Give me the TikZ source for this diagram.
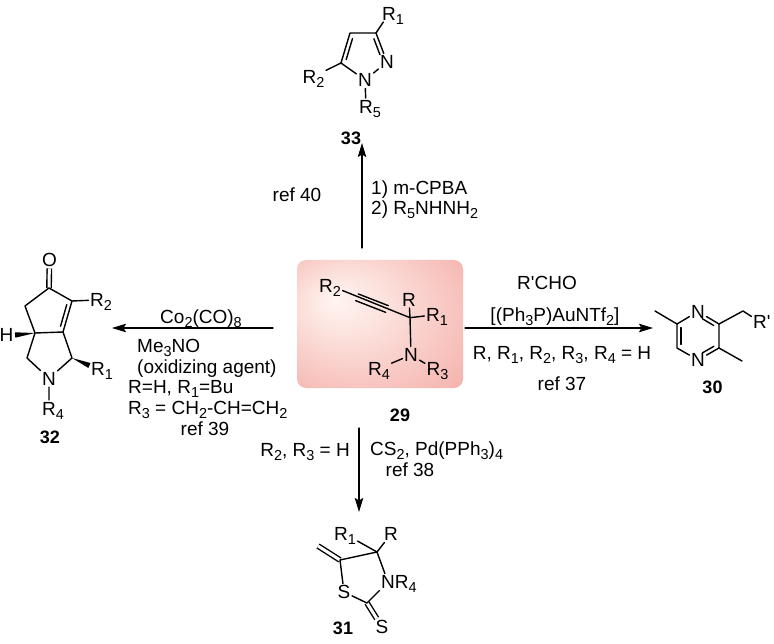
\documentclass[tikz,border=0pt]{standalone}
\usepackage{fontspec}
\setmainfont{Liberation Sans}
\usetikzlibrary{arrows.meta,calc}
\pgfdeclareradialshading{glowbox}{\pgfpoint{-14bp}{10bp}}{rgb(0bp)=(1,0.96,0.95); rgb(10bp)=(0.99,0.90,0.88); rgb(30bp)=(0.97,0.76,0.74); rgb(50bp)=(0.95,0.63,0.60)}
\newcommand\sub[1]{\raisebox{-.2em}{\scalebox{.76}{#1}}}
\newcommand\inbond[5]{\draw[bond] ($(#1)!#4!(#2)!#3!90:(#2)$) -- ($(#2)!#5!(#1)!#3!-90:(#1)$);}
\begin{document}
\begin{tikzpicture}[x=1pt,y=-1pt,>={Stealth[length=14pt,width=8.5pt,inset=2.5pt]},line join=round,line cap=round,
	bond/.style={line width=1.4pt},
	dbl/.style={line width=1.4pt,double distance=3pt,line cap=butt},
	rxn/.style={->,line width=1.3pt},
	atom/.style={font=\fontsize{19}{21}\selectfont,inner sep=1.5pt,text height=13.6pt,text depth=0pt},
	cond/.style={font=\fontsize{19}{22}\selectfont,inner sep=0pt,text height=13.6pt,text depth=0pt},
	cpd/.style={font=\fontsize{18}{20}\selectfont\bfseries,inner sep=0pt,text height=12.9pt,text depth=0pt},
	box29/.style={shade,shading=glowbox,rounded corners=9pt,minimum width=166pt,minimum height=128pt}]
	\useasboundingbox (0,0) rectangle (774,644);
	% 29
	\node[box29] (b29) at (380,324) {};
	\node[atom] (mr2) at (330,285.5) {R\sub{2}};
	\coordinate (ma) at (357,297.3);
	\coordinate (mb) at (387,309);
	\coordinate (mq) at (410,317.7);
	\node[atom] (mr) at (409,299.5) {R};
	\node[atom] (mr1) at (433,315) {R\rlap{\sub{1}}};
	\node[atom] (mn) at (411,355) {N};
	\node[atom] (mr4) at (379,368.5) {R\sub{4}};
	\node[atom] (mr3) at (433.5,368.5) {R\rlap{\sub{3}}};
	\draw[bond] (mr2) -- (mq) -- (mn) (mq) -- (mr) (mq) -- (mr1) (mn) -- (mr4) (mn) -- (mr3);
	\draw[bond] ($(ma)!3.6pt!90:(mb)$) -- ($(mb)!3.6pt!-90:(ma)$) ($(ma)!3.6pt!-90:(mb)$) -- ($(mb)!3.6pt!90:(ma)$);
	\node[cpd] (n29) at (400,415) {29};
	% 33
	\coordinate (p4) at (350,33);
	\coordinate (p3) at (376,33);
	\node[atom] (p2) at (387,62) {N};
	\node[atom] (p1) at (365,80) {N};
	\coordinate (p5) at (341,63);
	\node[atom] (pr1) at (389,13.5) {R\rlap{\sub{1}}};
	\node[atom] (pr2) at (313.5,76.5) {R\sub{2}};
	\node[atom] (pr5) at (366,106.5) {R\rlap{\sub{5}}};
	\draw[bond] (p4) -- (p3) -- (p2) -- (p1) -- (p5) -- (p4);
	\inbond{p4}{p5}{4pt}{.15}{.15}
	\inbond{p3}{p2}{-4pt}{.15}{.3}
	\draw[bond] (p3) -- (pr1) (p5) -- (pr2) (p1) -- (pr5);
	\node[cpd] (n33) at (351,138) {33};
	% 32
	\node[atom] (qo) at (49.5,260) {O};
	\coordinate (q1) at (49,288);
	\coordinate (q2) at (72,301);
	\coordinate (q3) at (63,332);
	\coordinate (q3a) at (35,333);
	\coordinate (q6) at (25,306);
	\coordinate (q4) at (27,358);
	\node[atom] (qn) at (49,378.5) {N};
	\coordinate (q5) at (72,358);
	\node[atom] (qr2) at (97,300) {R\rlap{\sub{2}}};
	\node[atom] (qr1) at (98,368.5) {R\rlap{\sub{1}}};
	\node[atom] (qr4) at (49,408.5) {R\rlap{\sub{4}}};
	\node[atom] (qh) at (6.5,335) {H};
	\draw[dbl] (q1) -- (qo);
	\draw[bond] (q1) -- (q2) -- (q3) -- (q3a) -- (q6) -- (q1);
	\draw[bond] (q3a) -- (q4) -- (qn) -- (q5) -- (q3);
	\inbond{q2}{q3}{-4pt}{.15}{.15}
	\draw[bond] (q2) -- (qr2) (qn) -- (qr4);
	\fill (q3a) -- ($(qh.east)!2.7pt!90:(q3a)$) -- ($(qh.east)!2.7pt!-90:(q3a)$) -- cycle;
	\fill (q5) -- ($([yshift=3pt]qr1.west)!2.7pt!90:(q5)$) -- ($([yshift=3pt]qr1.west)!2.7pt!-90:(q5)$) -- cycle;
	\node[cpd] (n32) at (50,437) {32};
	% 31
	\coordinate (t5) at (340,560);
	\coordinate (t4) at (377,552);
	\node[atom] (tn) at (388,582) {N\rlap{R\sub{4}}};
	\coordinate (t2) at (367,603);
	\node[atom] (ts1) at (344,592) {S};
	\node[atom] (ts2) at (382,627) {S};
	\coordinate (tm) at (318,546);
	\node[atom] (tr1) at (345,534) {R\sub{1}};
	\node[atom] (tr) at (391,534) {R};
	\draw[dbl] (t5) -- (tm) (t2) -- (ts2);
	\draw[bond] (t5) -- (t4) -- (tn) -- (t2) -- (ts1) -- (t5);
	\draw[bond] (t4) -- (tr1) (t4) -- (tr);
	\node[cpd] (n31) at (343,628) {31};
	% 30
	\node[atom] (zn1) at (698,311.5) {N};
	\coordinate (z2) at (719,324);
	\coordinate (z3) at (719,348);
	\node[atom] (zn4) at (698,360) {N};
	\coordinate (z5) at (677,348);
	\coordinate (z6) at (677,324);
	\coordinate (zm6) at (655,311);
	\coordinate (zm3) at (742,361);
	\coordinate (zc) at (743,311);
	\node[atom] (zr) at (760,322) {R\rlap{\textquotesingle}};
	\draw[bond] (zn1) -- (z2) -- (z3) -- (zn4) -- (z5) -- (z6) -- (zn1);
	\draw[bond] (z6) -- (zm6) (z3) -- (zm3) (z2) -- (zc) -- (zr);
	\inbond{zn1}{z2}{-4pt}{.3}{.15}
	\inbond{z3}{zn4}{-4pt}{.15}{.3}
	\inbond{z5}{z6}{-4pt}{.15}{.15}
	\node[cpd] (n30) at (712.5,387) {30};
	% arrows
	\coordinate (up0) at (362,248); \coordinate (up1) at (362,143);
	\coordinate (lf0) at (273,328); \coordinate (lf1) at (112,328);
	\coordinate (rt0) at (465,328); \coordinate (rt1) at (653,328);
	\coordinate (dn0) at (359,428); \coordinate (dn1) at (359,512);
	\draw[rxn] (up0) -- (up1);
	\draw[rxn] (lf0) -- (lf1);
	\draw[rxn] (rt0) -- (rt1);
	\draw[rxn] (dn0) -- (dn1);
	% conditions
	\node[cond] (c40) at (297,195) {ref 40};
	\node[cond,anchor=west] (cmcpba) at (371,188) {1) m-CPBA};
	\node[cond,anchor=west] (chyd) at (371,208) {2) R\sub{5}NHNH\sub{2}};
	\node[cond] (cco) at (201,317) {Co\sub{2}(CO)\sub{8}};
	\node[cond,anchor=west] (cme) at (137,346) {Me\sub{3}NO};
	\node[cond,anchor=west] (cox) at (137,367) {(oxidizing agent)};
	\node[cond,anchor=west] (crh) at (128,387) {R=H, R\sub{1}=Bu};
	\node[cond,anchor=west] (cr3) at (128,408) {R\sub{3} = CH\sub{2}-CH=CH\sub{2}};
	\node[cond] (c39) at (205,429) {ref 39};
	\node[cond] (cald) at (547,283) {R\textquotesingle CHO};
	\node[cond] (cau) at (555,315) {[(Ph\sub{3}P)AuNTf\sub{2}]};
	\node[cond] (crr) at (562,353) {R, R\sub{1}, R\sub{2}, R\sub{3}, R\sub{4} = H};
	\node[cond] (c37) at (562,384) {ref 37};
	\node[cond,anchor=east] (cr2) at (350,450) {R\sub{2}, R\sub{3} = H};
	\node[cond,anchor=west] (ccs) at (370,449) {CS\sub{2}, Pd(PPh\sub{3})\sub{4}};
	\node[cond] (c38) at (410,470) {ref 38};
\end{tikzpicture}
\end{document}
